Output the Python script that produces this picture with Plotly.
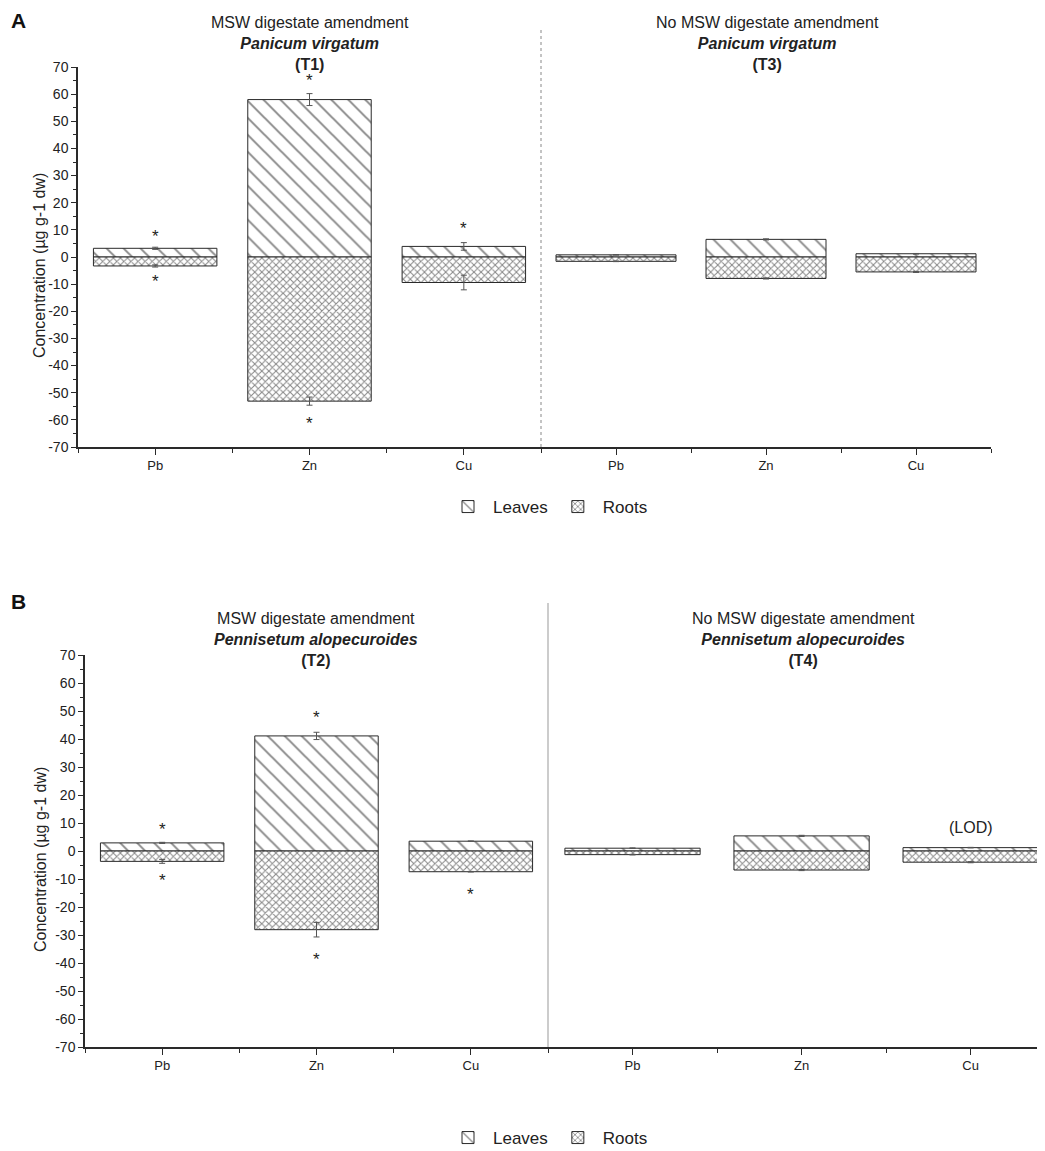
import plotly.graph_objects as go

# metals on the x axis of every panel
metals = ["Pb", "Zn", "Cu"]

# T1: MSW digestate, Panicum virgatum
t1_leaves = [3.2, 58.0, 3.9]
t1_leaves_err = [0.4, 2.2, 1.4]
t1_roots = [-3.3, -53.1, -9.4]
t1_roots_err = [0.4, 1.5, 2.7]
t1_star_top = [9.5, 66.9, 12.3]
t1_star_bottom = [-7.1, -59.5, None]

# T3: no digestate, Panicum virgatum
t3_leaves = [0.8, 6.5, 1.2]
t3_leaves_err = [0.1, 0.2, 0.1]
t3_roots = [-1.6, -7.9, -5.5]
t3_roots_err = [0.1, 0.2, 0.2]

# T2: MSW digestate, Pennisetum alopecuroides
t2_leaves = [2.9, 41.1, 3.5]
t2_leaves_err = [0.2, 1.3, 0.1]
t2_roots = [-3.7, -28.1, -7.4]
t2_roots_err = [0.7, 2.6, 0.1]
t2_star_top = [9.5, 49.5, None]
t2_star_bottom = [-8.7, -37.0, -13.9]

# T4: no digestate, Pennisetum alopecuroides
t4_leaves = [1.0, 5.4, 1.2]
t4_leaves_err = [0.1, 0.2, 0.1]
t4_roots = [-1.3, -6.8, -4.0]
t4_roots_err = [0.1, 0.2, 0.2]
t4_lod = [None, None, 8.5]

y_ticks = list(range(-70, 71, 10))

FONT = "Arial, Liberation Sans, Helvetica, sans-serif"
NARROW = "Liberation Sans Narrow, Arial Narrow, " + FONT
INK = "#2a2a2a"
pos = list(range(len(metals)))


def leaves_bar(vals, err, axes, legend, show):
    return go.Bar(x=pos, y=vals, width=0.8, name="Leaves",
                  xaxis=axes[0], yaxis=axes[1], legend=legend, showlegend=show,
                  marker=dict(color="white", line=dict(color=INK, width=1),
                              pattern=dict(shape="\\", size=12, solidity=0.16,
                                           fgcolor="#111", bgcolor="white")),
                  error_y=dict(type="data", array=err, color="#555", thickness=1, width=3))


def roots_bar(vals, err, axes, legend, show):
    return go.Bar(x=pos, y=vals, width=0.8, name="Roots",
                  xaxis=axes[0], yaxis=axes[1], legend=legend, showlegend=show,
                  marker=dict(color="white", line=dict(color=INK, width=1),
                              pattern=dict(shape="x", size=5, solidity=0.38,
                                           fgcolor="#111", bgcolor="white")),
                  error_y=dict(type="data", array=err, color="#555", thickness=1, width=3))


fig = go.Figure()

panels = [
    (("x", "y"), t1_leaves, t1_leaves_err, t1_roots, t1_roots_err, "legend", True),
    (("x2", "y2"), t3_leaves, t3_leaves_err, t3_roots, t3_roots_err, "legend", False),
    (("x3", "y3"), t2_leaves, t2_leaves_err, t2_roots, t2_roots_err, "legend2", True),
    (("x4", "y4"), t4_leaves, t4_leaves_err, t4_roots, t4_roots_err, "legend2", False),
]
for axes, lv, le, rv, re, lg, show in panels:
    fig.add_trace(leaves_bar(lv, le, axes, lg, show))
    fig.add_trace(roots_bar(rv, re, axes, lg, show))


def add_marks(vals, axes, label="*", size=17, shift=-5):
    """significance stars (and the LOD note) as text at data positions"""
    for p, v in zip(pos, vals):
        if v is None:
            continue
        fig.add_annotation(x=p, y=v, xref=axes[0], yref=axes[1], text=label,
                           showarrow=False, xanchor="center", yanchor="middle", yshift=shift,
                           font=dict(size=size, color="#222", family=FONT))


add_marks(t1_star_top, ("x", "y"))
add_marks(t1_star_bottom, ("x", "y"))
add_marks(t2_star_top, ("x3", "y3"))
add_marks(t2_star_bottom, ("x3", "y3"))
add_marks(t4_lod, ("x4", "y4"), label="(LOD)", size=16, shift=0)

# the page body has an 8px margin, so the figure is 8px smaller and
# positions below are given in page pixels
OFF = 8
W, H = 1045 - OFF, 1151 - OFF


def fx(px):
    return (px - OFF) / W


def fy(px):
    return 1 - (px - OFF) / H


def xaxis(dom, anchor, rng):
    return dict(domain=dom, anchor=anchor, range=rng, tickvals=pos, ticktext=metals,
                ticks="outside", ticklen=6, tickcolor=INK, showline=True, linecolor=INK,
                linewidth=1.5, zeroline=False, showgrid=False, automargin=False,
                tickfont=dict(size=13, family=NARROW, color="#222"),
                minor=dict(tick0=0.5, dtick=1, ticks="outside", ticklen=4, tickcolor=INK))


def yaxis(dom, anchor, visible):
    d = dict(domain=dom, anchor=anchor, range=[-70, 70], zeroline=False, showgrid=False,
             automargin=False)
    if visible:
        d.update(tickvals=y_ticks, ticktext=[str(v) for v in y_ticks], ticks="outside",
                 ticklen=5, tickcolor=INK, showline=True, linecolor=INK, linewidth=1.5,
                 tickfont=dict(size=14, family=FONT, color="#222"),
                 minor=dict(dtick=5, ticks="outside", ticklen=3, tickcolor=INK))
    else:
        d.update(showticklabels=False, showline=False, ticks="")
    return d


ya = [fy(447), fy(67)]
yb = [fy(1047), fy(655)]
fig.update_layout(
    width=W, height=H, margin=dict(l=0, r=0, t=0, b=0, autoexpand=False),
    paper_bgcolor="white", plot_bgcolor="white", barmode="overlay",
    font=dict(family=FONT, color="#222"),
    xaxis=xaxis([fx(78), fx(541)], "y", [-0.5, 2.5]),
    yaxis=yaxis(ya, "x", True),
    xaxis2=xaxis([fx(541), fx(991)], "y2", [-0.5, 2.5]),
    yaxis2=yaxis(ya, "x2", False),
    xaxis3=xaxis([fx(85), fx(548)], "y3", [-0.5, 2.5]),
    yaxis3=yaxis(yb, "x3", True),
    xaxis4=xaxis([fx(548), 1.0], "y4", [-0.5, 2.44]),
    yaxis4=yaxis(yb, "x4", False),
    legend=dict(orientation="h", x=fx(548), xanchor="center", y=fy(507), yanchor="middle",
                font=dict(size=17, family=NARROW), itemwidth=40),
    legend2=dict(orientation="h", x=fx(548), xanchor="center", y=fy(1138), yanchor="middle",
                 font=dict(size=17, family=NARROW), itemwidth=40),
)

titles = [
    (310, 12, "MSW digestate amendment", "Panicum virgatum", "(T1)"),
    (767, 12, "No MSW digestate amendment", "Panicum virgatum", "(T3)"),
    (316, 608, "MSW digestate amendment", "Pennisetum alopecuroides", "(T2)"),
    (803, 608, "No MSW digestate amendment", "Pennisetum alopecuroides", "(T4)"),
]
for xc, top, l1, l2, l3 in titles:
    fig.add_annotation(xref="paper", x=fx(xc), xanchor="center", yref="paper", y=fy(top),
                       yanchor="top", showarrow=False, align="center",
                       text=f"{l1}<br><b><i>{l2}</i></b><br><b>{l3}</b>",
                       font=dict(size=16, family=FONT, color="#222"))

# y axis titles
for yc in (266, 860):
    fig.add_annotation(xref="paper", yref="paper", x=fx(40), y=fy(yc), showarrow=False,
                       xanchor="center", yanchor="middle", textangle=-90,
                       text="Concentration (µg g-1 dw)",
                       font=dict(size=16, family=FONT, color="#222"))

# panel letters
for letter, yc in (("A", 21), ("B", 601)):
    fig.add_annotation(xref="paper", yref="paper", x=fx(9), y=fy(yc), xanchor="left",
                       yanchor="middle", showarrow=False, text=f"<b>{letter}</b>",
                       font=dict(size=21, family=FONT, color="#111"))

# dividers between treatment panels
fig.add_shape(type="line", xref="x2 domain", yref="paper", x0=0, x1=0,
              y0=fy(447), y1=fy(28), line=dict(color="#888", width=1, dash="dot"))
fig.add_shape(type="line", xref="x4 domain", yref="paper", x0=0, x1=0,
              y0=fy(1047), y1=fy(603), line=dict(color="#aaa", width=1.2))

fig.write_html("out.html")
